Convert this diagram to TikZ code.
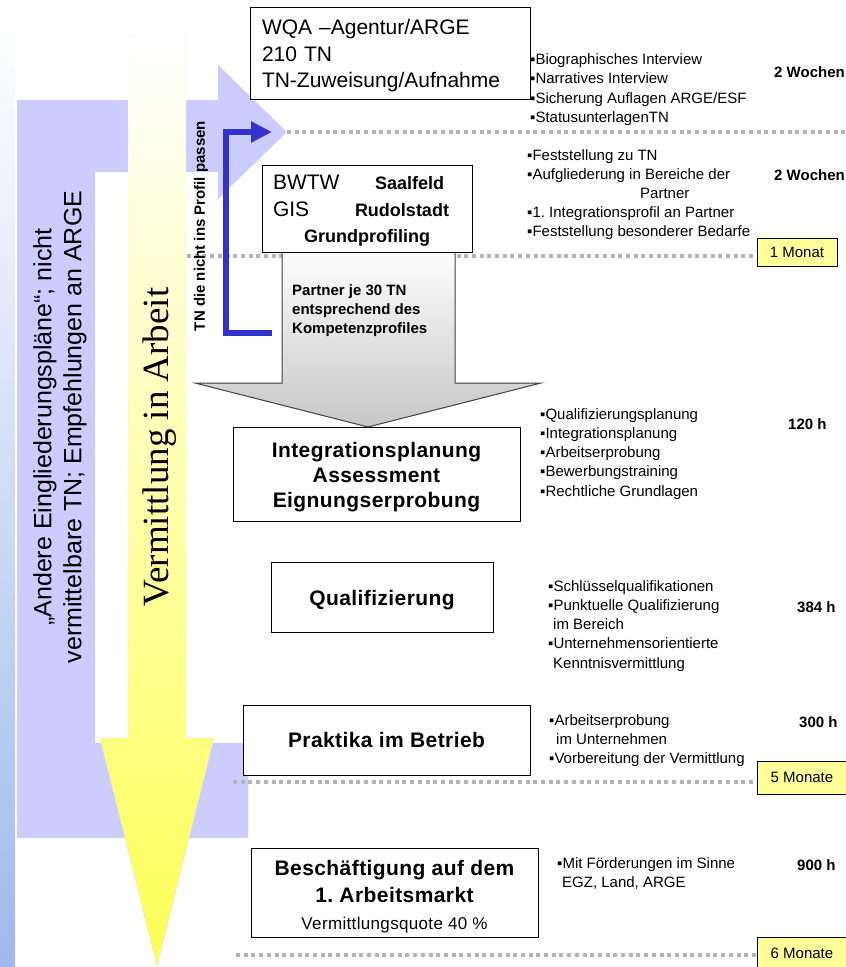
\documentclass[tikz,border=0pt]{standalone}
\usepackage{fontspec}
\setmainfont{Liberation Sans}
\newfontfamily\serifont{Liberation Serif}
\frenchspacing
\usetikzlibrary{arrows.meta}
\definecolor{lav}{RGB}{204,204,255}
\definecolor{blu}{RGB}{51,51,204}
\definecolor{sepgray}{RGB}{180,180,180}
\definecolor{monyel}{RGB}{255,255,153}
\definecolor{leftblue}{RGB}{160,185,235}
\newcommand{\fs}[2]{\fontsize{#1}{#2}\selectfont}
\begin{document}
\begin{tikzpicture}[x=1pt,y=-1pt,
  box/.style={draw=black,fill=white,line width=1pt,inner sep=0pt},
  sep/.style={draw=sepgray,line width=4pt,dash pattern=on 4pt off 3.7pt},
  mon/.style={draw=black,fill=monyel,line width=1pt,inner sep=0pt,minimum width=80,minimum height=28,font=\fs{15}{18}},
  lst/.style={anchor=north west,align=left,inner sep=0pt,font=\fs{15}{19.3}},
  hrs/.style={anchor=west,inner sep=0pt,font=\bfseries\fs{15}{18}},
  ttl/.style={box,align=center,font=\bfseries\fs{21}{25}\addfontfeature{LetterSpace=2}}]
\useasboundingbox (0,0) rectangle (846,967);
\clip (0,0) rectangle (846,967);
% background bands
\shade[top color=white,bottom color=leftblue] (0,20) rectangle (15,967);
\fill[lav] (17,838) -- (248,838) -- (248,743) -- (95,743) -- (95,172) -- (218,172) -- (218,199) -- (287,132) -- (218,65) -- (218,100) -- (17,100) -- cycle;
\shade[top color=white,middle color={rgb,255:red,255;green,255;blue,215},bottom color={rgb,255:red,255;green,255;blue,85},draw=black!12]
  (128,36) -- (186,36) -- (186,738) -- (214,738) -- (157,966) -- (100,738) -- (128,738) -- cycle;
% separators
\draw[sep] (287,132) -- (846,132);
\draw[sep] (187,256) -- (757,256);
\draw[sep] (233,782) -- (757,782);
\draw[sep] (236,955) -- (757,955);
% partner arrow
\shade[top color=white,bottom color=black!22,draw=black!75,line width=1pt]
  (282,245) -- (455,245) -- (455,383) -- (541,383) -- (368,427) -- (195,383) -- (282,383) -- cycle;
\node[anchor=north west,align=left,inner sep=0pt,font=\bfseries\fs{15}{19.3}] (part) at (292,284) {Partner je 30 TN\\entsprechend des\\Kompetenzprofiles};
% boxes
\node[box,align=left,text width=256,inner xsep=12,minimum height=92,font=\fs{21}{26.5}] (wqa) at (390,53) {\rule{0pt}{21pt}WQA –Agentur/ARGE\\210 TN\\TN-Zuweisung/Aufnahme};
\node[box,align=center,text width=188,inner xsep=11,minimum height=87,font=\fs{21}{26.5}] (bwtw) at (367,208.5)
  {\makebox[188pt][l]{\rule{0pt}{19pt}\makebox[102pt][l]{BWTW}\bfseries\fs{18}{26.5}Saalfeld}\\
   \makebox[188pt][l]{\makebox[82pt][l]{GIS}\bfseries\fs{18}{26.5}Rudolstadt}\\
   \bfseries\fs{18}{26.5}Grundprofiling};
\node[ttl,minimum width=287,minimum height=94] (integ) at (376.5,474) {\rule{0pt}{21pt}Integrationsplanung\\Assessment\\Eignungserprobung};
\node[ttl,minimum width=222,minimum height=70] (quali) at (382,597) {\rule{0pt}{21pt}Qualifizierung};
\node[ttl,minimum width=287,minimum height=70] (prakt) at (386.5,740) {Praktika im Betrieb};
\node[ttl,minimum width=287,minimum height=89,font=\bfseries\fs{21}{27}\addfontfeature{LetterSpace=2}] (besch) at (394.5,892.5)
  {\rule{0pt}{24pt}Beschäftigung auf dem\\1. Arbeitsmarkt\\{\mdseries\fs{17}{26}Vermittlungsquote 40 \%}};
\node[mon] (m1) at (797,252) {1 Monat};
\node[mon,minimum width=90,minimum height=33] (m5) at (802,777.5) {5 Monate};
\node[mon,minimum width=90,minimum height=33] (m6) at (802,953.5) {6 Monate};
% lists
\node[lst] (l1) at (530,53.5) {▪Biographisches Interview\\▪Narratives Interview\\▪Sicherung Auflagen ARGE/ESF\\▪StatusunterlagenTN};
\node[lst,font=\fs{15}{19}] (l2) at (527,149.5) {▪Feststellung zu TN\\▪Aufgliederung in Bereiche der\\\hspace*{113pt}Partner\\▪1. Integrationsprofil an Partner\\▪Feststellung besonderer Bedarfe};
\node[lst] (l3) at (540,408) {▪Qualifizierungsplanung\\▪Integrationsplanung\\▪Arbeitserprobung\\▪Bewerbungstraining\\▪Rechtliche Grundlagen};
\node[lst] (l4) at (548,580) {▪Schlüsselqualifikationen\\▪Punktuelle Qualifizierung\\\hspace*{5pt}im Bereich\\▪Unternehmensorientierte\\\hspace*{5pt}Kenntnisvermittlung};
\node[lst] (l5) at (549,714) {▪Arbeitserprobung\\\hspace*{7pt}im Unternehmen\\▪Vorbereitung der Vermittlung};
\node[lst] (l6) at (557,857) {▪Mit Förderungen im Sinne\\\hspace*{5pt}EGZ, Land, ARGE};
\foreach \n/\x/\y/\t in {h1/774/72/2 Wochen,h2/774/175/2 Wochen,h3/788/424/120 h,h4/797/607/384 h,h5/799/722/300 h,h6/797/865/900 h}
  \node[hrs] (\n) at (\x,\y) {\t};
% side texts
\node[rotate=90,font=\serifont\fs{37}{40}] (verm) at (160,447) {Vermittlung in Arbeit};
\node[rotate=90,align=center,font=\fs{25}{30}] (andere) at (60,427) {„Andere Eingliederungspläne“; nicht\\vermittelbare TN; Empfehlungen an ARGE};
\node[rotate=90,font=\bfseries\fs{15}{18}] (profil) at (201,226) {TN die nicht ins Profil passen};
% back to admission
\coordinate (tnout) at (272,333);
\coordinate (tncor) at (226,333);
\coordinate (tnin) at (272,132);
\draw[blu,line width=6pt,-{Triangle[width=20pt,length=21pt]}] (tnout) -- (tncor) |- (tnin);
\end{tikzpicture}
\end{document}
